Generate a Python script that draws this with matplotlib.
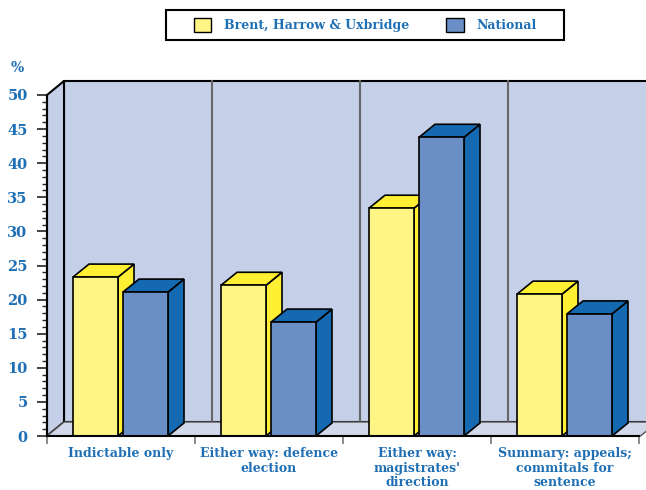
import matplotlib.pyplot as plt
from matplotlib.patches import Polygon, Patch, Rectangle
from matplotlib.ticker import MultipleLocator, FixedLocator

categories = ["Indictable only", "Either way: defence\nelection",
              "Either way:\nmagistrates'\ndirection",
              "Summary: appeals;\ncommitals for\nsentence"]
series_names = ["Brent, Harrow & Uxbridge", "National"]
local_vals = [23.3, 22.1, 33.4, 20.8]
national_vals = [21.1, 16.7, 43.8, 17.9]
y_ticks = [0, 5, 10, 15, 20, 25, 30, 35, 40, 45, 50]

TEXT = "#1f6fb5"
WALL = "#c5d0e8"
FLOOR = "#d0d8ea"
front_cols = ["#fff585", "#6a8ec6"]
shade_cols = ["#fff033", "#1469b0"]

plt.rcParams["font.family"] = ["DejaVu Serif"]
plt.rcParams["font.weight"] = "bold"

fig = plt.figure(figsize=(6.46, 4.90), dpi=100)
ax = fig.add_axes([47 / 646, 54 / 490, 592 / 646, 341 / 490])
ymax = 50
ax.set_xlim(0, len(categories))
ax.set_ylim(0, ymax)

# oblique depth of the walls and of the bars, in data units
wx, wy = 17 / 148, 14 / 6.82
bx, by = 16 / 148, 13 / 6.82

def poly(pts, fc, ec="black", lw=1.0, z=1):
    ax.add_patch(Polygon(pts, closed=True, fc=fc, ec=ec, lw=lw, zorder=z,
                         clip_on=False, joinstyle="miter"))

# back wall, side wall and floor
right = len(categories) + 1
poly([(wx, wy), (right, wy), (right, ymax + wy), (wx, ymax + wy)], WALL, lw=1.5, z=1)
for i in range(1, len(categories)):
    ax.plot([i + wx, i + wx], [wy, ymax + wy], color="#666666", lw=1.5, zorder=2,
            clip_on=False)
poly([(0, 0), (wx, wy), (wx, ymax + wy), (0, ymax)], WALL, lw=1.5, z=3)
poly([(0, 0), (len(categories) + 0.01, 0), (len(categories) + 0.01 + wx, wy), (wx, wy)],
     FLOOR, ec="#555555", lw=1.0, z=3)

# bars
offsets = [26 / 148, 76 / 148]
width = 45 / 148
for i in range(len(categories)):
    for s, vals in enumerate([local_vals, national_vals]):
        x0 = i + offsets[s]
        x1 = x0 + width
        h = vals[i]
        z = 5 + i * 2 + s
        poly([(x1, 0), (x1 + bx, by), (x1 + bx, h + by), (x1, h)], shade_cols[s], lw=1.2, z=z)
        poly([(x0, h), (x1, h), (x1 + bx, h + by), (x0 + bx, h + by)], shade_cols[s], lw=1.2, z=z)
        poly([(x0, 0), (x1, 0), (x1, h), (x0, h)], front_cols[s], lw=1.2, z=z)

# axes styling
for side in ["top", "right"]:
    ax.spines[side].set_visible(False)
ax.spines["left"].set_linewidth(1.5)
ax.spines["bottom"].set_linewidth(1.5)
ax.spines["left"].set_zorder(20)
ax.spines["bottom"].set_zorder(20)
ax.set_facecolor("none")

ax.yaxis.set_major_locator(FixedLocator(y_ticks))
ax.yaxis.set_minor_locator(MultipleLocator(1))
ax.tick_params(axis="y", which="major", length=7.5, width=1.2, color="#222222",
               labelcolor=TEXT, labelsize=10.5, pad=6.5)
ax.tick_params(axis="y", which="minor", length=3.8, width=1.0, color="#222222")
for lab in ax.get_yticklabels():
    lab.set_fontweight("bold")

ax.xaxis.set_major_locator(FixedLocator(range(len(categories) + 1)))
ax.xaxis.set_minor_locator(FixedLocator([i + 0.5 for i in range(len(categories))]))
ax.set_xticklabels([], minor=False)
ax.set_xticklabels(categories, minor=True, color=TEXT, fontsize=9,
                   fontweight="bold", linespacing=1.15)
ax.tick_params(axis="x", which="major", length=6, width=1.2, color="#777777")
ax.tick_params(axis="x", which="minor", length=0, pad=8)

ax.text(-0.2, 53.9, "%", color=TEXT, fontsize=10, fontweight="bold",
        ha="center", va="center", clip_on=False)

# legend with its own box
fig.patches.append(Rectangle((166 / 646, 1 - 40 / 490), 398 / 646, 30 / 490,
                             transform=fig.transFigure, fc="white", ec="black",
                             lw=1.5, zorder=0))
handles = [Patch(fc=front_cols[0], ec="black", lw=1.0),
           Patch(fc=front_cols[1], ec="black", lw=1.0)]
leg = fig.legend(handles, series_names, loc="center", ncol=2,
                 bbox_to_anchor=(365 / 646, 1 - 25 / 490), frameon=False,
                 handlelength=1.4, handleheight=1.4, columnspacing=3.0,
                 handletextpad=1.0, borderaxespad=0,
                 prop={"size": 9, "weight": "bold"})
for t in leg.get_texts():
    t.set_color(TEXT)

fig.savefig("out.png", dpi=100)
